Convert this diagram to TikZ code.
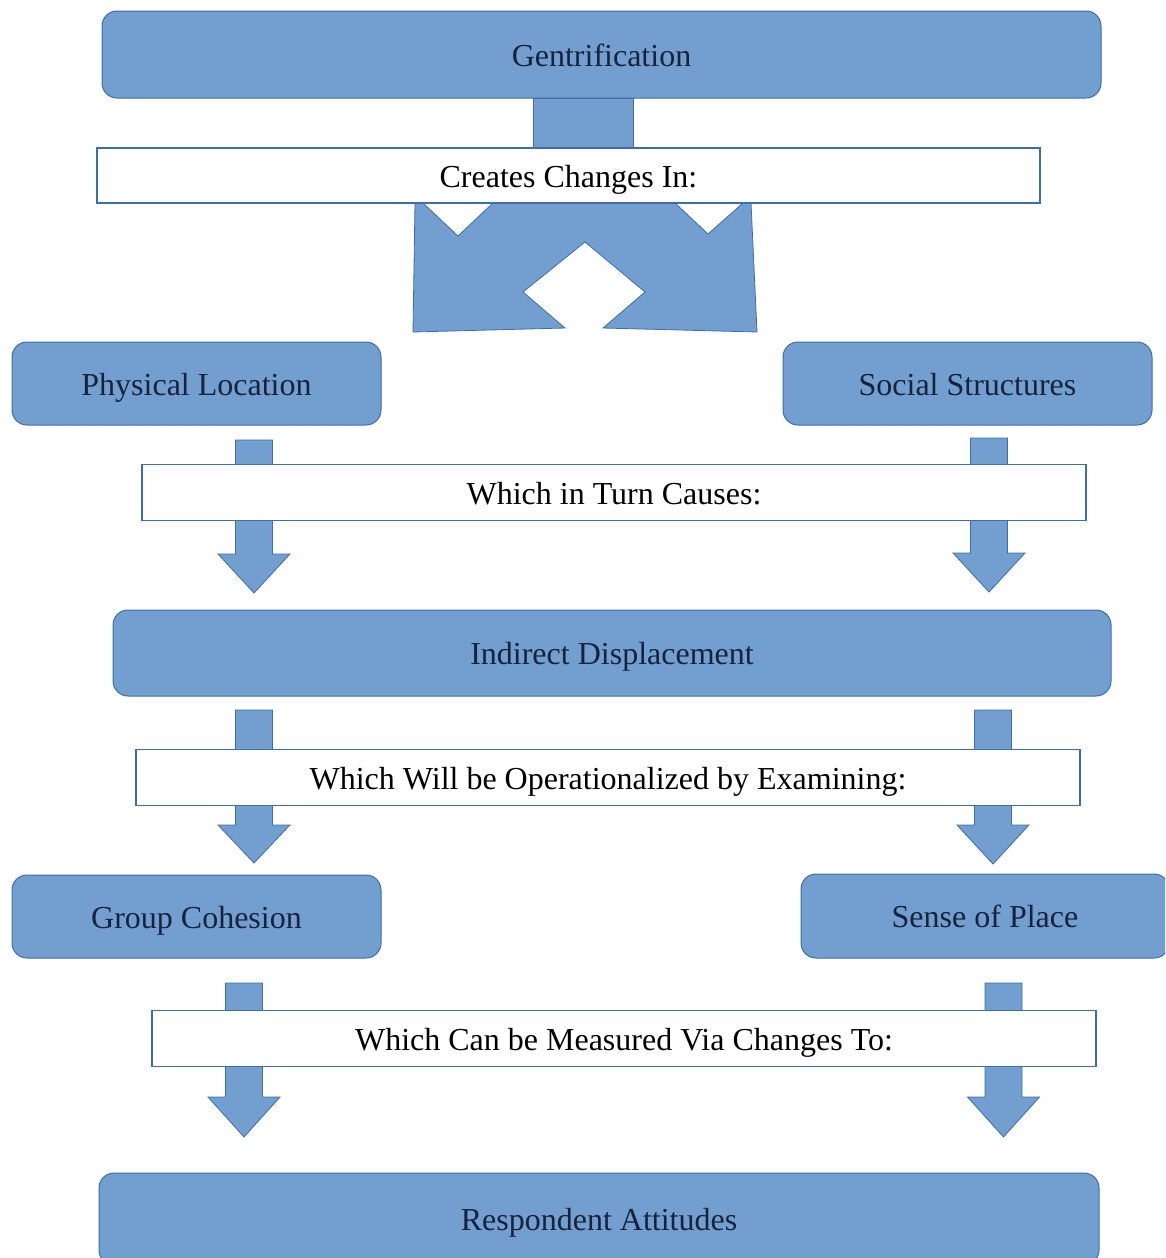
\documentclass[tikz,border=0pt]{standalone}
\usepackage{fontspec}
\setmainfont{Liberation Serif}
\definecolor{boxfill}{HTML}{729FCF}
\definecolor{boxline}{HTML}{3F6DA8}
\definecolor{boxtext}{HTML}{17233D}
\def\blockarrow#1#2#3#4{
\path [arrowshape]
      (#1-18.5,#2) -- (#1+18.5,#2) -- (#1+18.5,#3) -- (#1+36,#3)
      -- (#1,#4) -- (#1-36,#3) -- (#1-18.5,#3) -- cycle;
}
\tikzset{
  stage/.style={draw=boxline,fill=boxfill,rounded corners=15pt,line width=1pt,
    text=boxtext,font=\fontsize{32}{37}\selectfont,inner sep=0pt,
    text height=23.5pt,text depth=0pt},
  linkbox/.style={draw=boxline,fill=white,line width=1.3pt,text=black,
    font=\fontsize{32}{37}\selectfont,inner sep=0pt,minimum height=56pt,
    text height=23.5pt,text depth=0pt},
  arrowshape/.style={draw=boxline,fill=boxfill,line width=0.8pt,line join=miter}
}
\begin{document}
\begin{tikzpicture}[x=1pt,y=-1pt]
    \useasboundingbox (0,0) rectangle (1165,1258);
    \clip (0,0) rectangle (1165,1258);
    \node [stage,minimum width=999pt,minimum height=87pt] (gent) at (601.5,54.5) {Gentrification};
    \node [stage,minimum width=369pt,minimum height=83pt] (phys) at (196.5,383.5) {Physical Location};
    \node [stage,minimum width=369pt,minimum height=83pt] (social) at (967.5,383.5) {Social Structures};
    \node [stage,minimum width=998pt,minimum height=86pt] (indirect) at (612,653) {Indirect Displacement};
    \node [stage,minimum width=369pt,minimum height=83pt] (group) at (196.5,916.5) {Group Cohesion};
    \node [stage,minimum width=368pt,minimum height=84pt] (sense) at (985,916) {Sense of Place};
    \node [stage,minimum width=1000pt,minimum height=92pt] (resp) at (599,1219) {Respondent Attitudes};
    % split arrow below the first box
    \path [arrowshape] (533,98) rectangle (633,205);
    \path [arrowshape]
          (413,332) -- (415,203) -- (423,203) -- (458,236) -- (493,203)
          -- (675,203) -- (708,234) -- (743,203) -- (751,203) -- (757,332)
          -- (603,328) -- (645,292) -- (585,242) -- (523,292) -- (565,328) -- cycle;
    \blockarrow{254}{440}{554}{593}
    \blockarrow{989}{438}{553}{592}
    \blockarrow{254}{710}{825}{863}
    \blockarrow{993}{710}{825}{864}
    \blockarrow{244}{983}{1097}{1137}
    \blockarrow{1003.5}{983}{1097}{1137}
    \node [linkbox,minimum width=943pt,minimum height=55pt] (creates) at (568.5,175.5) {Creates Changes In:};
    \node [linkbox,minimum width=944pt] (turn) at (614,492.5) {Which in Turn Causes:};
    \node [linkbox,minimum width=944pt] (exam) at (608,777.5) {Which Will be Operationalized by Examining:};
    \node [linkbox,minimum width=944pt] (measure) at (624,1038.5) {Which Can be Measured Via Changes To:};
\end{tikzpicture}
\end{document}
